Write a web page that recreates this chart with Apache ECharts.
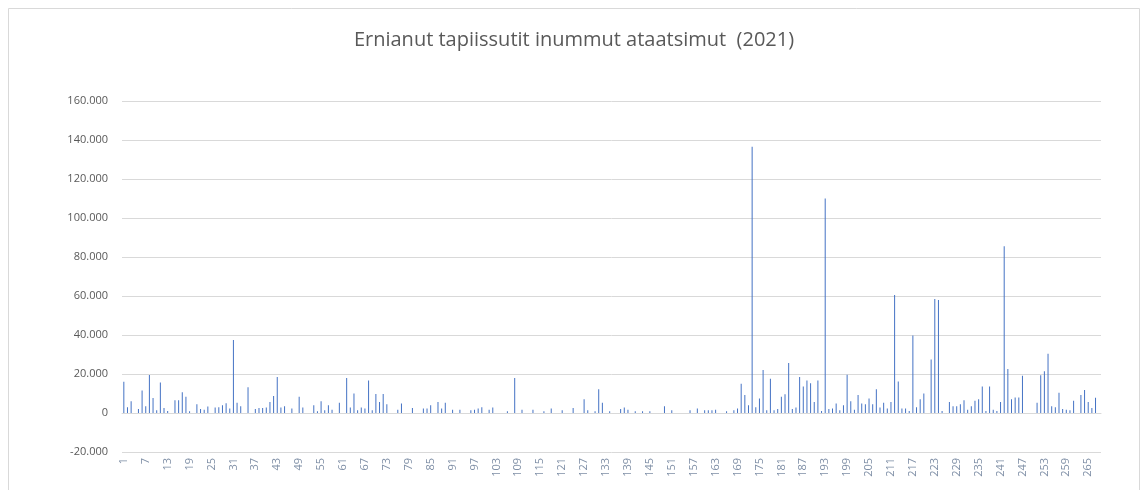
<!DOCTYPE html>
<html>
<head>
<meta charset="utf-8">
<title>Ernianut tapiissutit</title>
<script src="https://cdn.jsdelivr.net/npm/echarts@6/dist/echarts.min.js"></script>
<style>
    html, body { margin: 0; padding: 0; background: #fff; }
    #chart1 { width: 1148px; height: 490px; }
</style>
</head>
<body>
<div id="chart1"></div>
<script>
var chartTitle = 'Ernianut tapiissutit inummut ataatsimut  (2021)';

// amounts, one per category 1..268
var amounts = [
    16000, 3000, 6000, 0, 2000, 11500, 3500, 19500, 7700, 1400,
    15700, 2600, 1000, 0, 6600, 6600, 10600, 8300, 900, 0,
    4500, 2000, 1700, 3300, 0, 2800, 3000, 4000, 5000, 2300,
    37500, 5200, 3500, 0, 13200, 0, 2000, 2600, 2600, 2800,
    5700, 8700, 18500, 2800, 3500, 0, 2300, 0, 8300, 2800,
    0, 0, 4000, 900, 6000, 1400, 4000, 1700, 0, 5200,
    0, 17900, 2800, 10000, 1400, 2800, 2300, 16700, 1400, 9700,
    5700, 9700, 4500, 0, 0, 1700, 4900, 0, 0, 2600,
    0, 0, 2300, 2300, 4000, 0, 5700, 2300, 5200, 0,
    1700, 0, 1700, 0, 0, 1400, 1700, 2300, 3000, 0,
    1700, 2800, 0, 0, 0, 900, 0, 18000, 0, 1700,
    0, 0, 1700, 0, 0, 900, 0, 2300, 0, 0,
    1400, 0, 0, 2600, 0, 0, 7000, 1400, 0, 900,
    12200, 5200, 0, 900, 0, 0, 2000, 2800, 1700, 0,
    900, 0, 900, 0, 900, 0, 0, 0, 3500, 0,
    1400, 0, 0, 0, 0, 1400, 0, 2300, 0, 1400,
    1400, 1400, 1700, 0, 0, 900, 0, 1400, 2300, 15000,
    9200, 4000, 136500, 3000, 7500, 22000, 1400, 17600, 1400, 2000,
    8300, 9600, 25700, 2000, 2800, 18400, 13600, 16700, 15300, 5700,
    16700, 1000, 110000, 2000, 2300, 4900, 1400, 4000, 19600, 6000,
    1700, 9200, 4900, 4500, 7500, 4500, 12200, 2800, 5200, 2300,
    5700, 60500, 16200, 2300, 2300, 1000, 39700, 3000, 7000, 10000,
    0, 27500, 58500, 58000, 1000, 0, 5700, 3500, 3500, 4500,
    6600, 1700, 3500, 6300, 7100, 13600, 1000, 13600, 1700, 1000,
    5700, 85500, 22600, 7100, 8000, 8000, 19100, 0, 0, 0,
    5200, 19300, 21400, 30400, 3500, 3000, 10400, 2000, 1700, 1400,
    6300, 0, 9200, 11800, 5700, 2600, 7800, 0
];

var categories = amounts.map(function (v, i) {
    return String(i + 1);
});

var yMin = -20000;
var yMax = 160000;
var yStep = 20000;

function formatThousands(v) {
    var s = String(Math.abs(v)).replace(/\B(?=(\d{3})+(?!\d))/g, '.');
    return (v < 0 ? '-' : '') + s;
}

window.onload = function () {
    chart1();
};

function chart1() {
    var myChart = echarts.init(document.getElementById('chart1'));
    var option = {
        animation: false,
        backgroundColor: '#fff',
        graphic: [{
            type: 'rect',
            shape: { x: 8.5, y: 8.5, width: 1131, height: 490 },
            style: { fill: 'none', stroke: '#d9d9d9', lineWidth: 1 }
        }],
        title: {
            text: chartTitle,
            left: 'center',
            top: 25,
            textStyle: {
                fontFamily: 'Open Sans',
                fontSize: 20,
                fontWeight: 'normal',
                color: '#595959'
            }
        },
        grid: {
            left: 122,
            right: 47,
            top: 101,
            bottom: 38,
            containLabel: false
        },
        xAxis: {
            type: 'category',
            data: categories,
            axisTick: { show: false },
            axisLine: {
                onZero: true,
                lineStyle: { color: '#d9d9d9' }
            },
            axisLabel: {
                interval: 5,
                rotate: 90,
                margin: 6,
                fontFamily: 'Open Sans',
                fontSize: 11,
                color: '#7f8fa6'
            }
        },
        yAxis: {
            type: 'value',
            min: yMin,
            max: yMax,
            interval: yStep,
            axisLine: { show: false },
            axisTick: { show: false },
            splitLine: { lineStyle: { color: '#d9d9d9' } },
            axisLabel: {
                margin: 14,
                fontFamily: 'Open Sans',
                fontSize: 11,
                color: '#595959',
                formatter: formatThousands
            }
        },
        series: [
            {
                name: 'amount',
                type: 'bar',
                data: amounts,
                barWidth: 1,
                itemStyle: { color: '#4472C4' }
            }
        ]
    };
    myChart.setOption(option);
}
</script>
</body>
</html>
